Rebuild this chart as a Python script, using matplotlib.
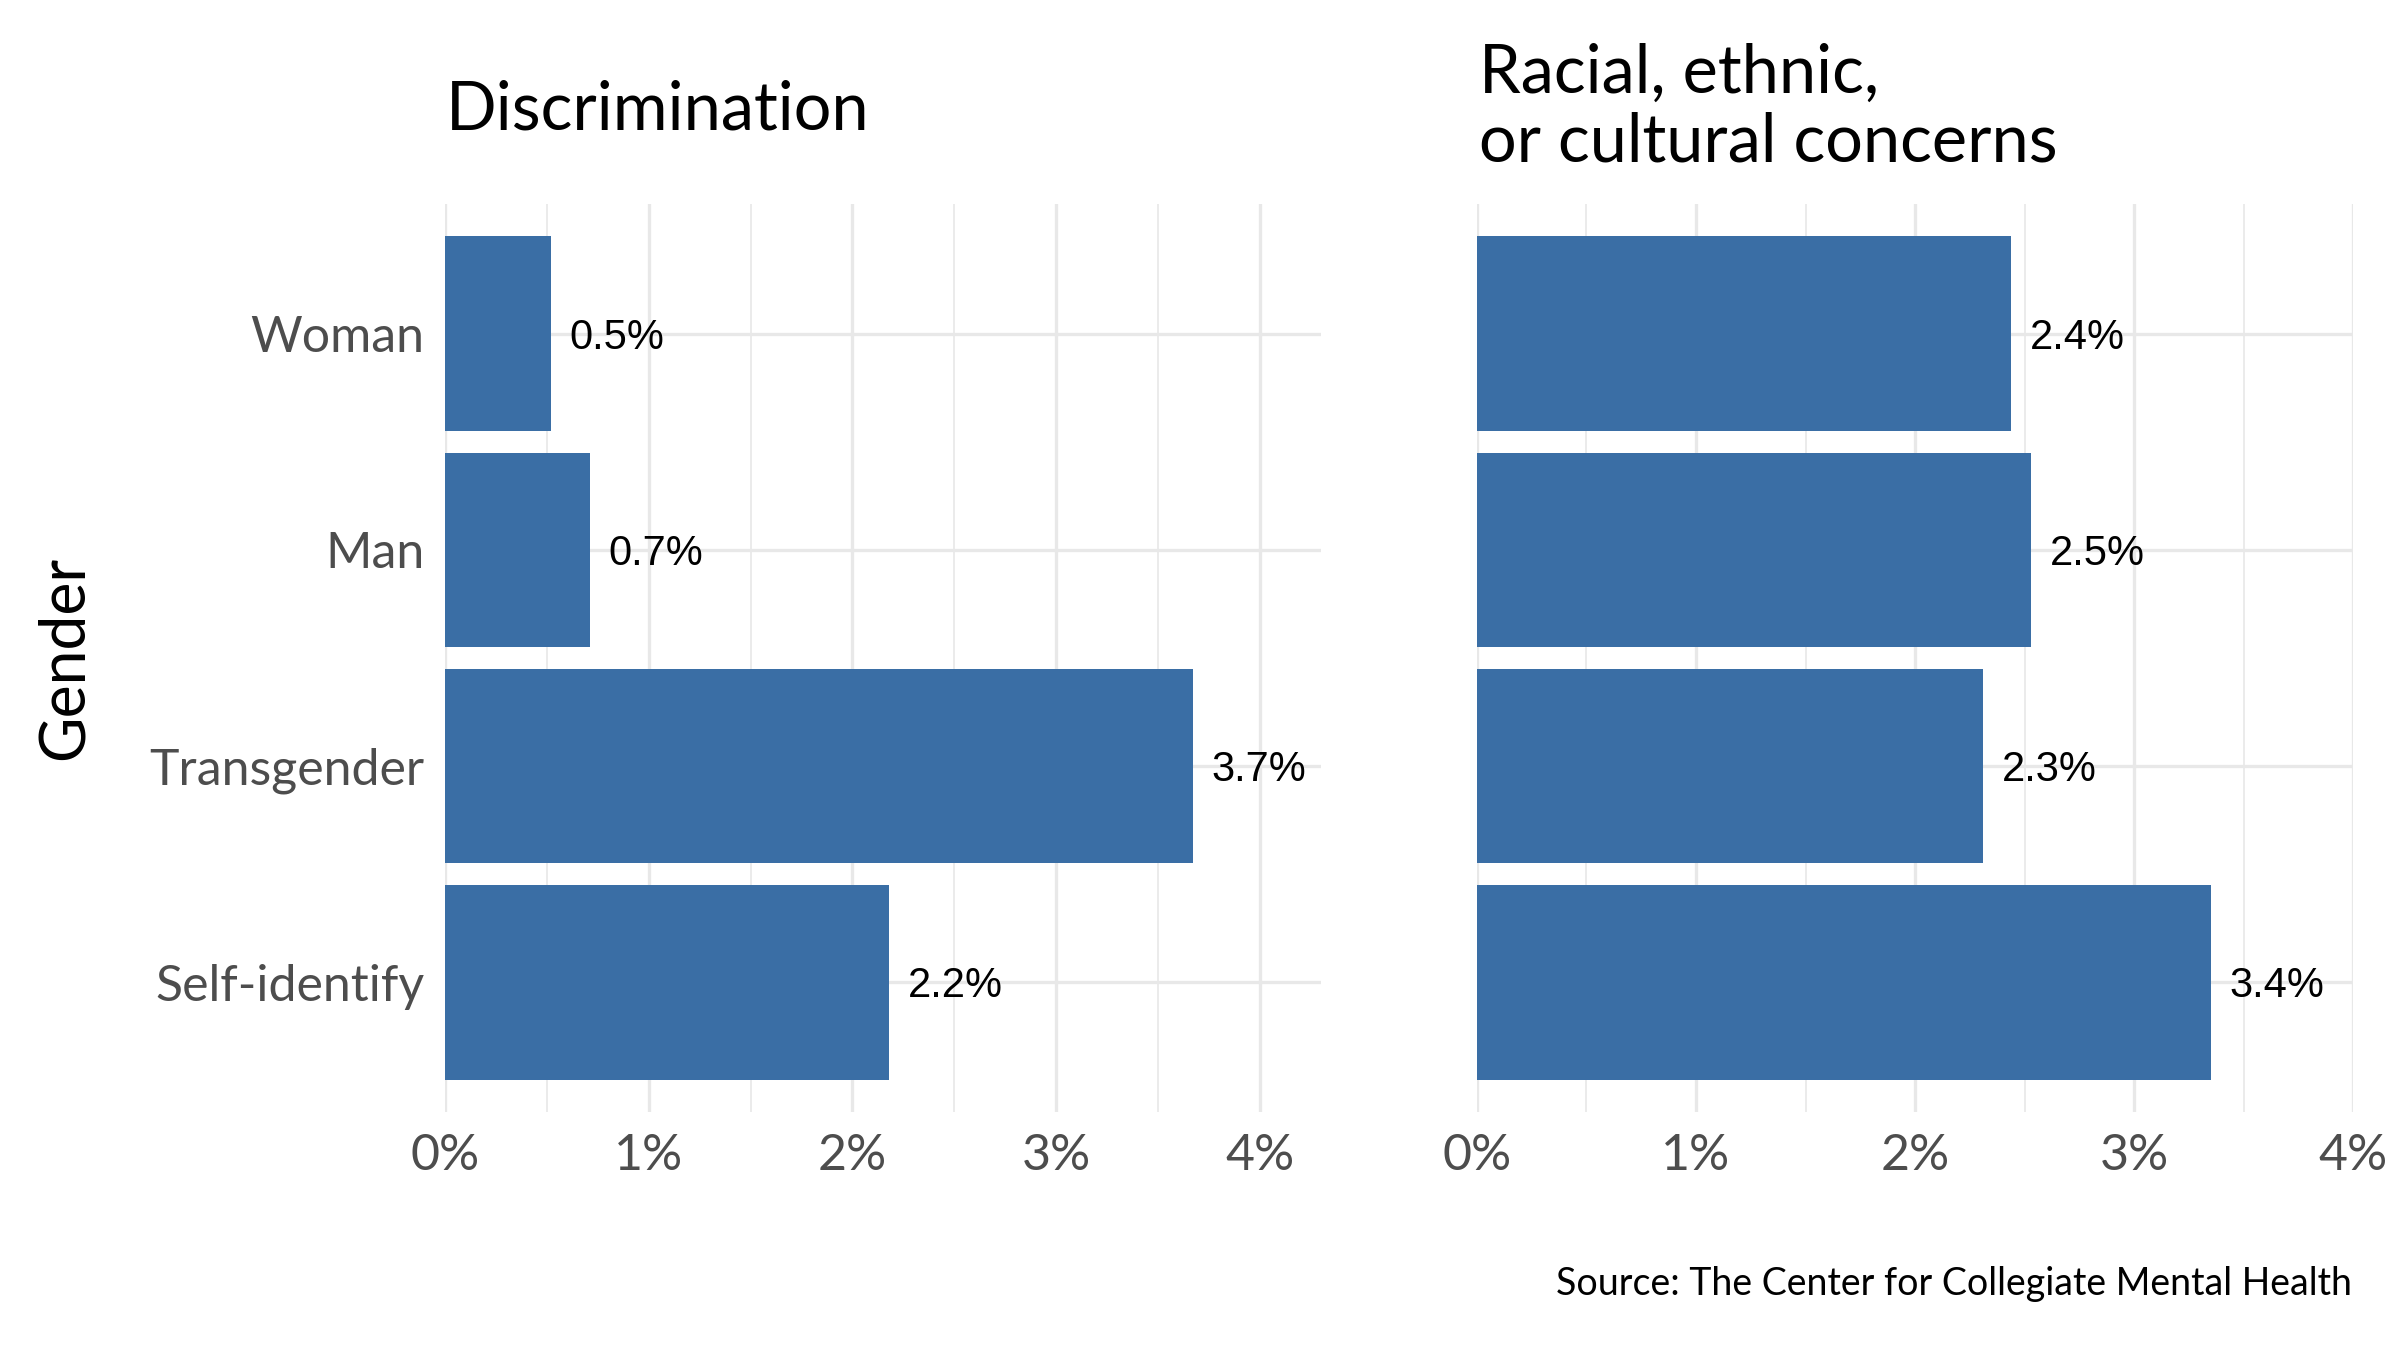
import matplotlib
matplotlib.use("Agg")
import matplotlib.pyplot as plt
from matplotlib.ticker import MultipleLocator, FuncFormatter

categories = ["Woman", "Man", "Transgender", "Self-identify"]
discrimination = [0.52, 0.71, 3.67, 2.18]
racial = [2.44, 2.53, 2.31, 3.35]
titles = ["Discrimination", "Racial, ethnic,\nor cultural concerns"]
xmax = [4.30, 4.0]
x_ticks = [0, 1, 2, 3, 4]

BAR = "#3A6EA5"
GRID = "#E8E8E8"
FONT = ["Lato", "DejaVu Sans"]
LABEL_FONT = ["Liberation Sans", "DejaVu Sans"]

fig = plt.figure(figsize=(16, 9), dpi=150)
W, H = 2400, 1350
top, bottom = 204, 1112
panels = [(445, 1321), (1477, 2353)]

axes = []
for i, (x0, x1) in enumerate(panels):
    ax = fig.add_axes([x0 / W, 1 - bottom / H, (x1 - x0) / W, (bottom - top) / H])
    axes.append(ax)
    vals = discrimination if i == 0 else racial
    ypos = list(range(len(categories)))
    ax.barh(ypos, vals, height=0.9, color=BAR, zorder=2)
    for y, v in zip(ypos, vals):
        ax.annotate(f"{v:.1f}%", xy=(v, y), xytext=(9, -2), textcoords="offset points",
                    ha="left", va="center", fontsize=20, family=LABEL_FONT,
                    color="black", zorder=3)
    ax.set_xlim(0, xmax[i])
    ax.set_ylim(len(categories) - 0.4, -0.6)
    ax.set_xticks(x_ticks)
    ax.xaxis.set_minor_locator(MultipleLocator(0.5))
    ax.xaxis.set_major_formatter(FuncFormatter(lambda v, p: f"{v:.0f}%"))
    ax.set_yticks(ypos)
    if i == 0:
        ax.set_yticklabels(categories)
    else:
        ax.set_yticklabels([])
    ax.grid(True, which="major", axis="both", color=GRID, lw=1.6, zorder=0)
    ax.grid(True, which="minor", axis="x", color=GRID, lw=0.8, zorder=0)
    ax.set_axisbelow(True)
    for s in ax.spines.values():
        s.set_visible(False)
    ax.tick_params(axis="both", which="both", length=0, pad=10)
    for lab in ax.get_xticklabels() + ax.get_yticklabels():
        lab.set_fontsize(24)
        lab.set_family(FONT)
        lab.set_color("#4D4D4D")

# Titles (vertically centred on the same line)
fig.text(446 / W, 1 - 110 / H, titles[0], ha="left", va="center", fontsize=32,
         family=FONT, color="black")
fig.text(1479 / W, 1 - 108 / H, titles[1], ha="left", va="center", fontsize=32,
         family=FONT, color="black", linespacing=1.12)

fig.text(65 / W, 1 - 658 / H, "Gender", rotation=90, ha="center", va="center",
         fontsize=30, family=FONT, color="black")

fig.text(2352 / W, 1 - 1284 / H, "Source: The Center for Collegiate Mental Health",
         ha="right", va="center", fontsize=18, family=FONT, color="black")

fig.savefig("out.png", dpi=150, facecolor="white")
